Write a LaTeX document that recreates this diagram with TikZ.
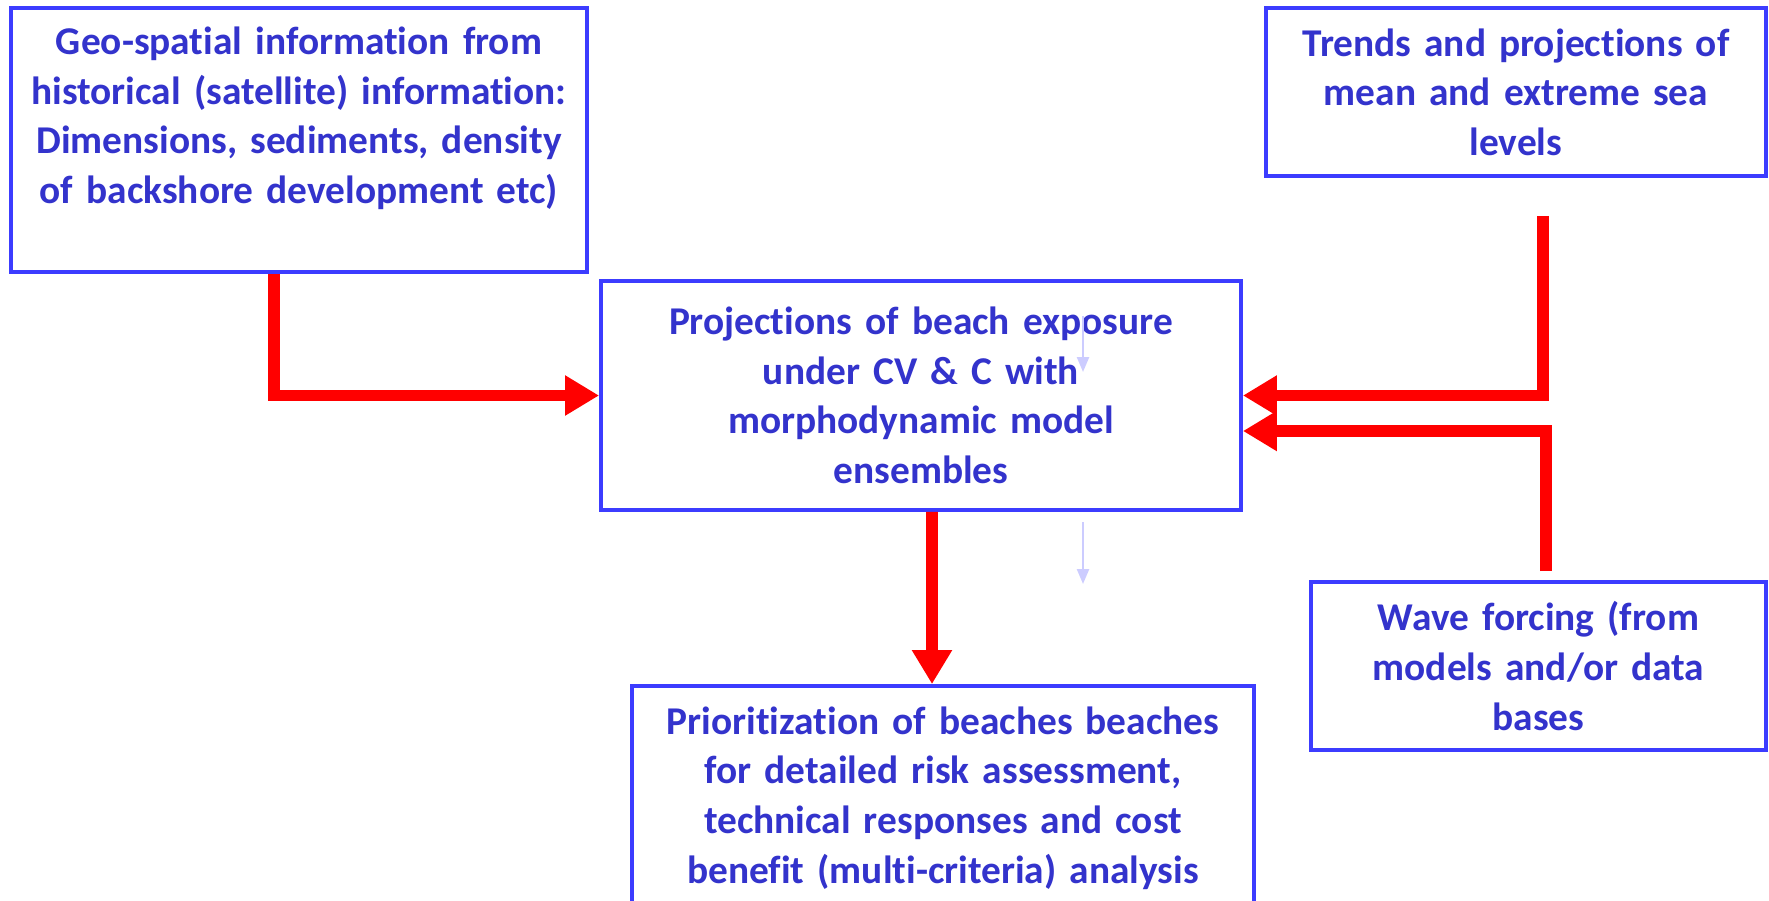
\documentclass[tikz,border=0pt]{standalone}
\usepackage{fontspec}
\setmainfont{Carlito}[Ligatures={NoCommon,NoContextual,NoRequired}, WordSpace=0.8]
\usetikzlibrary{positioning, calc, arrows.meta}
\definecolor{boxblue}{RGB}{60,60,255}
\definecolor{textblue}{RGB}{51,51,204}
\definecolor{faintblue}{RGB}{204,204,255}
\tikzset{
    infobox/.style={draw=boxblue, line width=1.1pt, text=textblue, align=center, inner sep=0pt,
        font=\bfseries\fontsize{11.2}{14.1}\selectfont},
    flow/.style={red, line width=3.3pt, -{Triangle[length=0.34cm,width=0.38cm]}},
    faint/.style={faintblue, line width=0.7pt, -{Triangle[length=0.15cm,width=0.12cm]}}
}

\begin{document}
\begin{tikzpicture}
            \clip (0,0) rectangle (17.69,-9.00);
            \useasboundingbox (0,0) rectangle (17.69,-9.00);
            \node[infobox, text width=5.76cm, minimum height=2.64cm] (geo) at (2.99,-1.40)
                {Geo-spatial information from\\ historical (satellite) information:\\ Dimensions, sediments, density\\ of backshore development etc)\\ ~};
            \node[infobox, text width=5.0cm, minimum height=1.68cm] (trends) at (15.16,-0.92)
                {Trends and projections of\\ mean and extreme sea\\ levels};
            \node[infobox, text width=6.4cm, minimum height=2.29cm] (proj) at (9.21,-3.955)
                {Projections of beach exposure\\ under CV \& C with\\ morphodynamic model\\ ensembles};
            \node[infobox, text width=6.22cm, minimum height=2.24cm] (prio) at (9.43,-7.98)
                {Prioritization of beaches beaches\\ for detailed risk assessment,\\ technical responses and cost\\ benefit (multi-criteria) analysis};
            \node[infobox, text width=4.55cm, minimum height=1.68cm] (wave) at (15.385,-6.66)
                {Wave forcing (from\\ models and/or data\\ bases};
            \draw[flow] ([xshift=-0.25cm]geo.south) |- (proj.west);
            \draw[flow] ([xshift=0.27cm,yshift=-0.38cm]trends.south) |- (proj.east);
            \draw[flow] ([xshift=0.075cm,yshift=0.09cm]wave.north) |- ([yshift=-0.355cm]proj.east);
            \draw[flow] ([xshift=0.11cm]proj.south) -- ([xshift=-0.11cm]prio.north);
            \coordinate (fa) at (10.83,-3.16);
            \coordinate (fb) at (10.83,-3.72);
            \coordinate (fc) at (10.83,-5.22);
            \coordinate (fd) at (10.83,-5.84);
            \draw[faint] (fa) -- (fb);
            \draw[faint] (fc) -- (fd);
        \end{tikzpicture}
\end{document}
